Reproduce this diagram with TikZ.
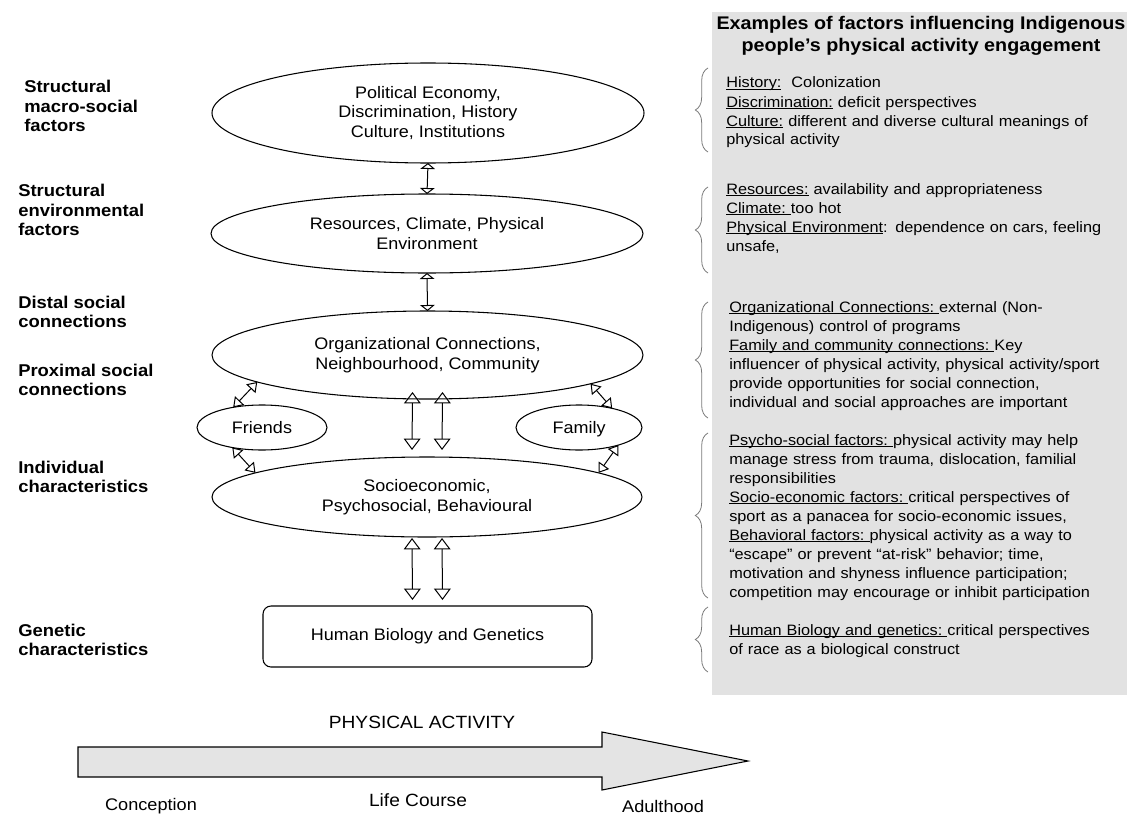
\documentclass[tikz,border=0pt]{standalone}
\usepackage{fontspec}
\setmainfont{Liberation Sans}[FakeStretch=1.08]
\usetikzlibrary{arrows.meta,shapes.geometric,decorations.pathreplacing}
\definecolor{panelgray}{HTML}{E2E2E2}
\definecolor{bracegray}{HTML}{7A7A7A}
\definecolor{arrowfill}{HTML}{E4E4E4}
\newcommand\myul[1]{\setbox0=\hbox{#1}\leavevmode\rlap{\rule[-1.6pt]{\wd0}{0.6pt}}\box0\relax}
\begin{document}
\begin{tikzpicture}[x=0.75pt,y=-0.75pt,
  oval/.style={draw, line width=0.8pt, ellipse, inner sep=0pt, outer sep=0pt, align=center,
    font=\fontsize{12.5}{14.6}\selectfont},
  lbl/.style={anchor=west, align=left, inner sep=0pt, font=\fontsize{12.8}{14.6}\selectfont\bfseries},
  rtxt/.style={anchor=base west, text width=300pt, align=left, inner sep=0pt,
    font=\fontsize{11.3}{14.25}\selectfont},
  brace/.style={decorate, decoration={brace, amplitude=9.5pt}, draw=bracegray, line width=0.6pt},
  bigbi/.style={line width=0.75pt, >={Triangle[open,length=8.5pt,width=12.5pt]}, <->},
  flatbi/.style={line width=0.75pt, >={Triangle[open,length=4.5pt,width=11pt]}, <->},
  diagbi/.style={line width=0.75pt, >={Triangle[open,length=7pt,width=9.5pt]}, <->},
  axis/.style={inner sep=0pt, font=\fontsize{12.6}{15}\selectfont}
]
\useasboundingbox (0,0) rectangle (1127,817);
% right panel
\fill[panelgray] (712,12) rectangle (1127,695);
\node[align=center, inner sep=0pt, font=\fontsize{13.7}{16.5}\selectfont\bfseries] (title) at (921,36)
  {Examples of factors influencing Indigenous\\people’s physical activity engagement};

% left labels
\node[lbl] (l1) at (24,106) {Structural\\macro-social\\factors};
\node[lbl] (l2) at (18,210) {Structural\\environmental\\factors};
\node[lbl] (l3) at (18,312) {Distal social\\connections};
\node[lbl] (l4) at (18,380) {Proximal social\\connections};
\node[lbl] (l5) at (18,477) {Individual\\characteristics};
\node[lbl] (l6) at (18,640) {Genetic\\characteristics};

% central model
\node[oval, minimum width=324pt, minimum height=75pt] (macro) at (428,113)
  {Political Economy,\\Discrimination, History\\Culture, Institutions};
\node[oval, minimum width=324pt, minimum height=59.25pt] (env) at (427,233.5)
  {Resources, Climate, Physical\\Environment};
\node[oval, minimum width=323.25pt, minimum height=66pt] (dist) at (427.5,355)
  {Organizational Connections,\\Neighbourhood, Community};
\node[oval, minimum width=97.5pt, minimum height=33.75pt, text depth=0pt] (friends) at (262,427.5) {Friends};
\node[oval, minimum width=94.5pt, minimum height=33.75pt, text depth=0pt] (family) at (579,427.5) {Family};
\node[oval, minimum width=322.5pt, minimum height=60pt] (socio) at (427,497)
  {Socioeconomic,\\Psychosocial, Behavioural};
\node[draw, line width=0.8pt, rounded corners=6pt, inner sep=0pt, outer sep=0pt,
  minimum width=246.75pt, minimum height=45.75pt, font=\fontsize{12.5}{14.6}\selectfont]
  (bio) at (427.5,636.5) {Human Biology and Genetics};

% connectors
\draw[flatbi] (macro.south) -- (env.north);
\draw[flatbi] (env.south) -- (dist.north);
\draw[bigbi] ([shift={(-15,-7)}]dist.south) -- ([shift={(-15,-7)}]socio.north);
\draw[bigbi] ([shift={(15,-7)}]dist.south) -- ([shift={(15,-7)}]socio.north);
\draw[bigbi] ([shift={(-15,1)}]socio.south) -- ([shift={(-15,-6)}]bio.north);
\draw[bigbi] ([shift={(15,1)}]socio.south) -- ([shift={(15,-6)}]bio.north);
\draw[diagbi] (dist.189) -- (friends.145);
\draw[diagbi] (friends.214) -- (socio.172);
\draw[diagbi] (dist.350) -- (family.30);
\draw[diagbi] (family.-24) -- (socio.8);

% braces
\draw[brace] (708,152) -- (708,68);
\draw[brace] (708,273) -- (708,187);
\draw[brace] (708,418) -- (708,302);
\draw[brace] (708,598) -- (708,433);
\draw[brace] (708,672) -- (708,607);

% right texts
\node[rtxt] (t1) at (726,88) {\myul{History:}\ \ Colonization\\
\myul{Discrimination:} deficit perspectives\\
\myul{Culture:} different and diverse cultural meanings of\\
physical activity};
\node[rtxt] (t2) at (726,194) {\myul{Resources:} availability and appropriateness\\
\myul{Climate:\ }too hot\\
\myul{Physical Environment}: dependence on cars, feeling\\
unsafe,};
\node[rtxt] (t3) at (729,312) {\myul{Organizational Connections:\ }external (Non-\\
Indigenous) control of programs\\
\myul{Family and community connections:\ }Key\\
influencer of physical activity, physical activity/sport\\
provide opportunities for social connection,\\
individual and social approaches are important};
\node[rtxt] (t4) at (729,445) {\myul{Psycho-social factors:\ }physical activity may help\\
manage stress from trauma, dislocation, familial\\
responsibilities\\
\myul{Socio-economic factors:\ }critical perspectives of\\
sport as a panacea for socio-economic issues,\\
\myul{Behavioral factors:\ }physical activity as a way to\\
“escape” or prevent “at-risk” behavior; time,\\
motivation and shyness influence participation;\\
competition may encourage or inhibit participation};
\node[rtxt] (t5) at (729,635) {\myul{Human Biology and genetics:\ }critical perspectives\\
of race as a biological construct};

% life course arrow
\draw[line width=0.8pt, fill=arrowfill] (78,747) -- (602,747) -- (602,732) -- (748,761)
  -- (602,790) -- (602,777) -- (78,777) -- cycle;
\node[axis, font=\fontsize{13.3}{15}\selectfont] (pa) at (422,722) {PHYSICAL ACTIVITY};
\node[axis, font=\fontsize{13.3}{15}\selectfont] (lc) at (418,800) {Life Course};
\node[axis] (conc) at (151,806) {Conception};
\node[axis] (adult) at (663,806) {Adulthood};
\end{tikzpicture}
\end{document}
